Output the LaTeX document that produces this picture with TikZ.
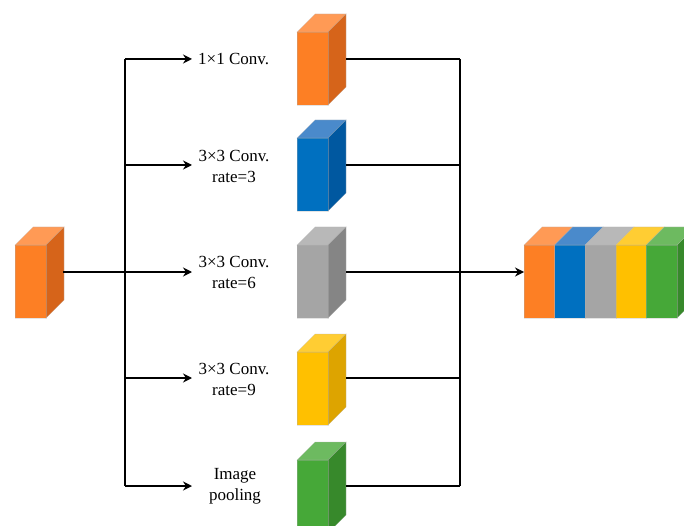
\documentclass[tikz,border=0pt]{standalone}
\usepackage{fontspec}
\setmainfont{Liberation Serif}
\usetikzlibrary{arrows.meta}
\definecolor{orF}{HTML}{FD7F24}\definecolor{orT}{HTML}{FF9A55}\definecolor{orR}{HTML}{D6641A}
\definecolor{blF}{HTML}{0070C0}\definecolor{blT}{HTML}{4A8ACB}\definecolor{blR}{HTML}{0058A0}
\definecolor{grF}{HTML}{A5A5A5}\definecolor{grT}{HTML}{B8B8B8}\definecolor{grR}{HTML}{858585}
\definecolor{yeF}{HTML}{FFC000}\definecolor{yeT}{HTML}{FFCD33}\definecolor{yeR}{HTML}{DDA400}
\definecolor{gnF}{HTML}{46A838}\definecolor{gnT}{HTML}{6DBA60}\definecolor{gnR}{HTML}{37892B}
\tikzset{
  edge/.style={draw=white!70!black, draw opacity=0.35, line width=0.6pt},
  conn/.style={line width=2.5pt, black, line join=miter},
  arr/.style={line width=2.5pt, black, -{Stealth[length=9pt,width=9pt]}},
  lbl/.style={font=\fontsize{17}{21}\selectfont, align=center, inner sep=0pt},
  pics/cube/.style n args={3}{code={
    \fill[#2,edge] (0,0) -- (18,-18) -- (49,-18) -- (31,0) -- cycle;
    \fill[#3,edge] (31,0) -- (49,-18) -- (49,55) -- (31,73) -- cycle;
    \fill[#1,edge] (0,0) rectangle (31,73);
  }},
  pics/slab/.style n args={3}{code={
    \fill[#2,edge] (0,0) -- (18,-18) -- (48.6,-18) -- (30.6,0) -- cycle;
    \fill[#1,edge] (0,0) rectangle (30.6,73);
  }}
}
\begin{document}
\begin{tikzpicture}[x=1pt,y=-1pt]
\useasboundingbox (0,0) rectangle (684,526);
% input cube
\pic at (15,245) {cube={orF}{orT}{orR}};
\coordinate (in) at (63,272);
% branch cubes
\pic at (297,32) {cube={orF}{orT}{orR}};
\pic at (297,138) {cube={blF}{blT}{blR}};
\pic at (297,245) {cube={grF}{grT}{grR}};
\pic at (297,352) {cube={yeF}{yeT}{yeR}};
\pic at (297,460) {cube={gnF}{gnT}{gnR}};
% output block
\fill[gnR,edge] (677,245) -- (695,227) -- (695,300) -- (677,318) -- cycle;
\pic at (524,245) {slab={orF}{orT}};
\pic at (554.6,245) {slab={blF}{blT}};
\pic at (585.2,245) {slab={grF}{grT}};
\pic at (615.8,245) {slab={yeF}{yeT}};
\pic at (646.4,245) {slab={gnF}{gnT}};
\coordinate (out) at (524,272);
% coordinates
\coordinate (sT) at (125,59);
\coordinate (sB) at (125,486);
\coordinate (sM) at (125,272);
\coordinate (mT) at (460,59);
\coordinate (mB) at (460,486);
\coordinate (mM) at (460,272);
\foreach \i/\y in {1/59,2/165,3/272,4/378,5/486}{
  \coordinate (s\i) at (125,\y);
  \coordinate (a\i) at (192,\y);
  \coordinate (c\i) at (346,\y);
  \coordinate (m\i) at (460,\y);
}
% labels
\node[lbl,anchor=west] (l1) at (198,59) {1×1 Conv.};
\node[lbl] (l2) at (234,166) {3×3 Conv.\\rate=3};
\node[lbl] (l3) at (234,272) {3×3 Conv.\\rate=6};
\node[lbl] (l4) at (234,379) {3×3 Conv.\\rate=9};
\node[lbl] (l5) at (235,486) {Image\\pooling};
% connectors
\draw[conn] (in) -- (sM);
\draw[conn] (sT) -- (sB);
\foreach \i in {1,...,5}{
  \draw[arr] (s\i) -- (a\i);
  \draw[conn] (c\i) -- (m\i);
}
\draw[conn] (mT) -- (mB);
\draw[arr] (mM) -- (out);
\end{tikzpicture}
\end{document}
